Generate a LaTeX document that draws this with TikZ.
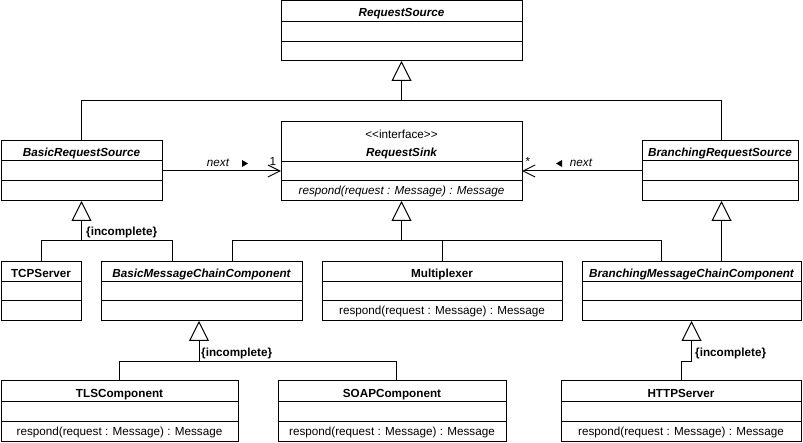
\documentclass[tikz,border=0pt]{standalone}
\usepackage{fontspec}
\setmainfont{Liberation Sans}
\usetikzlibrary{arrows.meta}

\newcommand\compline[2]{\draw[ln] ([yshift=-#2pt]#1.north west) -- ([yshift=-#2pt]#1.north east);}

\tikzset{
  x=1pt, y=-1pt,
  ln/.style={line width=1pt},
  cls/.style={draw, line width=1pt, inner sep=0pt, outer sep=0pt, anchor=north west},
  txt/.style={inner sep=0pt, anchor=base, font=\fontsize{11.7}{13}\selectfont},
  abst/.style={txt, font=\fontsize{11.7}{13}\selectfont\bfseries\itshape},
  conc/.style={txt, font=\fontsize{11.7}{13}\selectfont\bfseries},
  opit/.style={txt, font=\fontsize{11.7}{13}\selectfont\itshape},
  gen/.style={ln, -{Triangle[open, length=20pt 0 0, width=20pt 0 0, line width=1pt]}},
  assoc/.style={ln, -{Straight Barb[length=12pt 0 0, width=12pt 0 0, line width=1pt]}},
  constraint/.style={txt, font=\fontsize{11.7}{13}\selectfont\bfseries, anchor=base west},
}

\begin{document}
\begin{tikzpicture}
\useasboundingbox (0,0) rectangle (803,443);

% ---- class boxes ----
\node[cls, minimum width=241pt, minimum height=60pt] (rs) at (281,1) {};
\compline{rs}{21}\compline{rs}{41}
\node[abst] at ([yshift=-16pt]rs.north) {RequestSource};

\node[cls, minimum width=161pt, minimum height=60pt] (brs) at (1,141) {};
\compline{brs}{20}\compline{brs}{40}
\node[abst] at ([yshift=-16pt]brs.north) {BasicRequestSource};

\node[cls, minimum width=241pt, minimum height=79pt] (sink) at (281,122) {};
\compline{sink}{40}\compline{sink}{59}
\node[txt] at ([yshift=-16.5pt]sink.north) {<\kern0pt<interface>\kern0pt>};
\node[abst] at ([yshift=-35pt]sink.north) {RequestSink};
\node[opit] at ([yshift=6pt]sink.south) {respond(request : Message) : Message};

\node[cls, minimum width=156pt, minimum height=60pt] (bgs) at (642,141) {};
\compline{bgs}{20}\compline{bgs}{40}
\node[abst] at ([yshift=-16pt]bgs.north) {BranchingRequestSource};

\node[cls, minimum width=80pt, minimum height=59pt] (tcp) at (1,262) {};
\compline{tcp}{20}\compline{tcp}{39}
\node[conc] at ([yshift=-15.5pt]tcp.north) {TCPServer};

\node[cls, minimum width=201pt, minimum height=59pt] (bmcc) at (101,262) {};
\compline{bmcc}{20}\compline{bmcc}{39}
\node[abst] at ([yshift=-15.5pt]bmcc.north) {BasicMessageChainComponent};

\node[cls, minimum width=240pt, minimum height=59pt] (mux) at (322,262) {};
\compline{mux}{20}\compline{mux}{39}
\node[conc] at ([yshift=-15.5pt]mux.north) {Multiplexer};
\node[txt] at ([yshift=6pt]mux.south) {respond(request : Message) : Message};

\node[cls, minimum width=219pt, minimum height=59pt] (brmcc) at (582,262) {};
\compline{brmcc}{20}\compline{brmcc}{39}
\node[abst] at ([yshift=-15.5pt]brmcc.north) {BranchingMessageChainComponent};

\node[cls, minimum width=237pt, minimum height=60pt] (tls) at (1,381) {};
\compline{tls}{20}\compline{tls}{40}
\node[conc] at ([yshift=-16pt]tls.north) {TLSComponent};
\node[txt] at ([yshift=6pt]tls.south) {respond(request : Message) : Message};

\node[cls, minimum width=228pt, minimum height=60pt] (soap) at (278,381) {};
\compline{soap}{20}\compline{soap}{40}
\node[conc] at ([yshift=-16pt]soap.north) {SOAPComponent};
\node[txt] at ([yshift=6pt]soap.south) {respond(request : Message) : Message};

\node[cls, minimum width=240pt, minimum height=60pt] (http) at (561,381) {};
\compline{http}{20}\compline{http}{40}
\node[conc] at ([yshift=-16pt]http.north) {HTTPServer};
\node[txt] at ([yshift=6pt]http.south) {respond(request : Message) : Message};

% ---- generalizations ----
\coordinate (j1) at (401.5,101);
\draw[ln] (brs.north) |- (j1);
\draw[ln] ([xshift=1.5pt]bgs.north) |- (j1);
\draw[gen] (j1) -- (rs.south);

\coordinate (j2) at (81.5,241);
\draw[ln] (tcp.north) |- (j2);
\draw[ln] ([xshift=-29.5pt]bmcc.north) |- (j2);
\draw[gen] (j2) -- (brs.south);
\node[constraint] (c1) at (86,235.5) {\{incomplete\}};

\coordinate (j3) at (401.5,241);
\draw[ln] ([xshift=30.5pt]bmcc.north) |- (j3);
\draw[ln] (mux.north) |- (j3);
\draw[ln] ([xshift=-30pt]brmcc.north) |- (j3);
\draw[gen] (j3) -- (sink.south);

\draw[gen] ([xshift=30pt]brmcc.north) -- ([xshift=1.5pt]bgs.south);

\coordinate (j4) at (199,361.5);
\draw[ln] (tls.north) |- (j4);
\draw[ln] ([xshift=4pt]soap.north) |- (j4);
\draw[gen] (j4) -- ([xshift=-2.5pt]bmcc.south);
\node[constraint] (c2) at (201,356.5) {\{incomplete\}};

\draw[gen] (http.north) -- ++(0,-19.5) -| (brmcc.south);
\node[constraint] (c3) at (695,356) {\{incomplete\}};

% ---- associations ----
\draw[assoc] (brs.east) -- (brs.east -| sink.west);
\node[opit] (n1) at (218,166.5) {next};
\fill (242,160) -- (248,163.5) -- (242,167) -- cycle;
\node[txt] (m1) at (273,166) {1};

\draw[assoc] (bgs.west) -- (bgs.west -| sink.east);
\node[opit] (n2) at (581,166.5) {next};
\fill (562,160) -- (556,163.5) -- (562,167) -- cycle;
\node[txt] (m2) at (528,166) {*};
\end{tikzpicture}
\end{document}
